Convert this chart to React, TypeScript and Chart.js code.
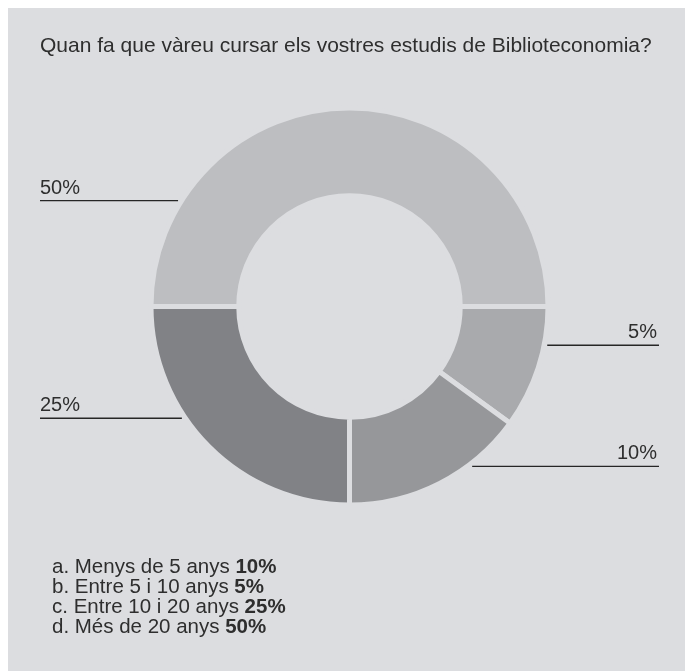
import React, { useEffect, useRef } from "react";
import { Chart, registerables } from "chart.js";

Chart.register(...registerables);

const TITLE = "Quan fa que vàreu cursar els vostres estudis de Biblioteconomia?";
const legendItems = ["a. Menys de 5 anys", "b. Entre 5 i 10 anys", "c. Entre 10 i 20 anys", "d. Més de 20 anys"];
const legendValues = ["10%", "5%", "25%", "50%"];

// slices clockwise from 3 o'clock (drawn shares)
const sliceNames = ["b", "a", "c", "d"];
const sliceLabels = ["5%", "10%", "25%", "50%"];
const sliceValues = [10, 15, 25, 50];
const sliceColors = ["#a9aaad", "#96979a", "#818286", "#bdbec1"];
const labelAngles = [11.1, 52.5, 146.3, 211.7];

const BG = "#dcdde0";
const TEXT = "#2e2e2e";
const FONT = '"Liberation Sans", Arial, Helvetica, sans-serif';
const W = 677;
const H = 664;

const leaderPlugin = {
  id: "leaders",
  afterDraw(chart: any) {
    const arc = chart.getDatasetMeta(0).data[0] as any;
    if (!arc) return;
    const cx = arc.x;
    const cy = arc.y;
    const r = arc.outerRadius + 3;
    const ctx = chart.ctx as CanvasRenderingContext2D;
    ctx.save();
    ctx.strokeStyle = "#262626";
    ctx.lineWidth = 1.4;
    ctx.fillStyle = TEXT;
    ctx.font = `20px ${FONT}`;
    ctx.textBaseline = "alphabetic";
    sliceLabels.forEach((lab, i) => {
      const a = (labelAngles[i] * Math.PI) / 180;
      const ex = cx + r * Math.cos(a);
      const ey = cy + r * Math.sin(a);
      const left = Math.cos(a) < 0;
      const x0 = left ? 32 : ex;
      const x1 = left ? ex : 651;
      ctx.beginPath();
      ctx.moveTo(x0, ey);
      ctx.lineTo(x1, ey);
      ctx.stroke();
      ctx.textAlign = left ? "left" : "right";
      ctx.fillText(lab, left ? x0 : x1 - 2, ey - 7);
    });
    ctx.restore();
  },
};

export default function App() {
  const ref = useRef<HTMLCanvasElement | null>(null);

  useEffect(() => {
    document.documentElement.style.overflow = "hidden";
    if (!ref.current) return;
    const chart = new Chart(ref.current, {
      type: "doughnut",
      data: {
        labels: sliceNames,
        datasets: [
          {
            data: sliceValues,
            backgroundColor: sliceColors,
            borderColor: BG,
            borderWidth: 5,
            hoverBorderWidth: 5,
          },
        ],
      },
      options: {
        responsive: false,
        animation: false,
        rotation: 90,
        radius: 198.5,
        cutout: 111,
        layout: { padding: { left: 140, right: 134, top: 97, bottom: 164 } },
        plugins: {
          legend: { display: false },
          tooltip: { enabled: false },
          title: { display: false },
        },
        events: [],
      } as any,
      plugins: [leaderPlugin],
    });
    return () => chart.destroy();
  }, []);

  return (
    <div
      style={{
        position: "fixed",
        left: 8,
        top: 8,
        width: W,
        height: H,
        background: BG,
        fontFamily: FONT,
        color: TEXT,
      }}
    >
      <canvas ref={ref} width={W} height={H} style={{ position: "absolute", left: 0, top: 0 }} />
      <div
        style={{
          position: "absolute",
          left: 32,
          top: 26,
          fontSize: 21,
          lineHeight: "21px",
          whiteSpace: "nowrap",
        }}
      >
        {TITLE}
      </div>
      <div
        style={{
          position: "absolute",
          left: 44,
          top: 548,
          fontSize: 20.5,
          lineHeight: "20px",
          whiteSpace: "nowrap",
        }}
      >
        {legendItems.map((t, i) => (
          <div key={i}>
            {t} <b>{legendValues[i]}</b>
          </div>
        ))}
      </div>
    </div>
  );
}
